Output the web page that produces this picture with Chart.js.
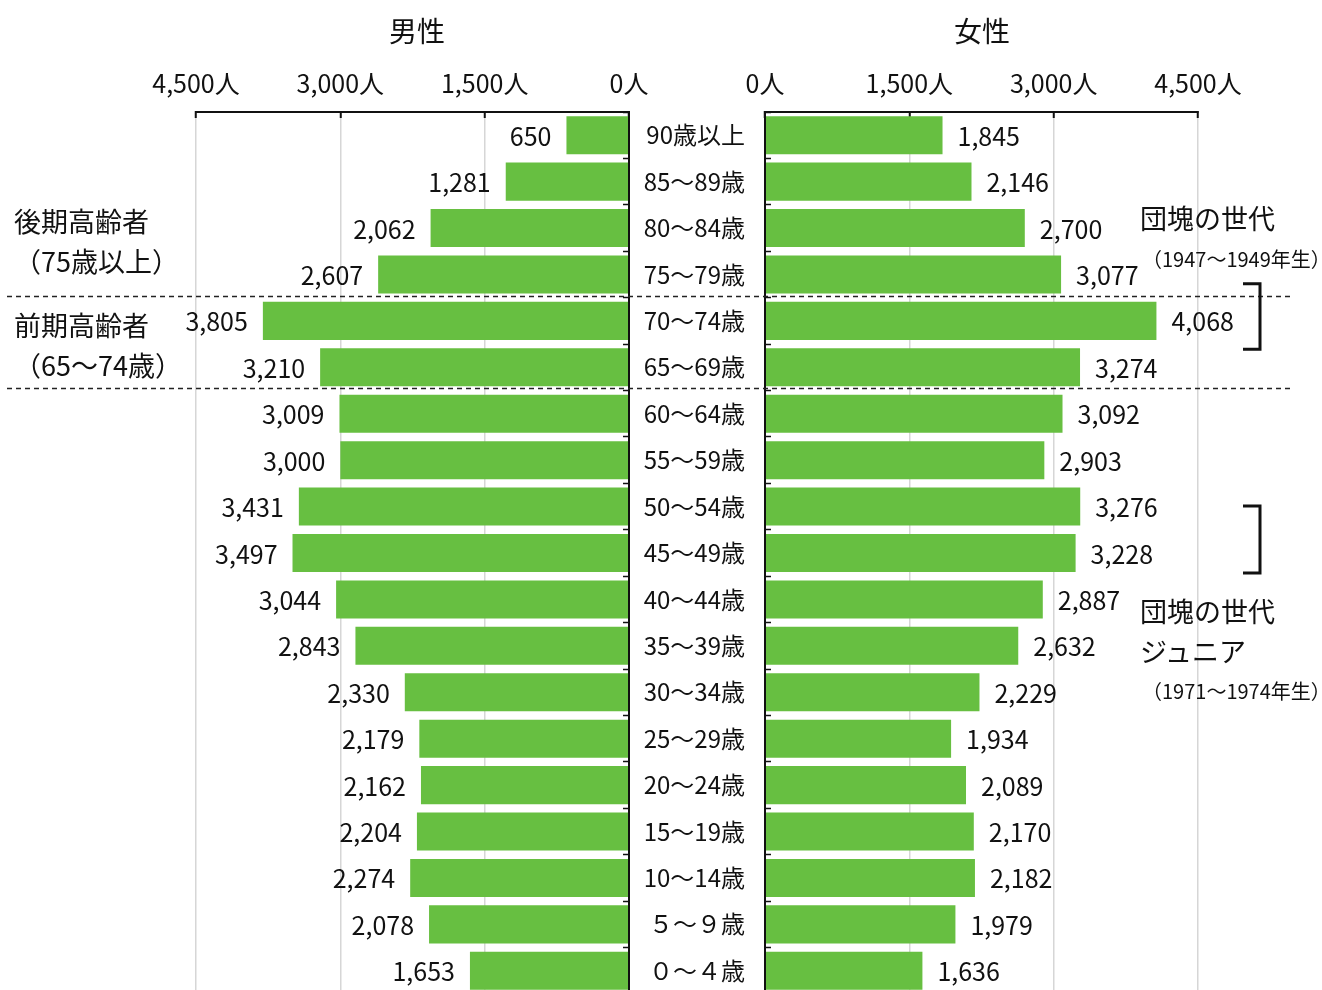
<!DOCTYPE html>
<html lang="ja">
<head>
<meta charset="utf-8">
<script src="https://cdn.jsdelivr.net/npm/chart.js@4.4.1/dist/chart.umd.min.js"></script>
<style>
  html, body { margin:0; padding:0; background:#fff; overflow:hidden; }
  #wrap { position:relative; width:1322px; height:990px; overflow:hidden;
          font-family:"Liberation Sans Narrow","Noto Sans CJK JP",sans-serif; color:#111; }
  canvas { position:absolute; top:0; }
  #male { left:0; }
  #female { left:640px; }
  .t { position:absolute; white-space:nowrap; line-height:1; transform:translateY(-50%); }
  .big { font-size:27px; }
  .small { font-size:20px; }
  .title { font-size:28px; transform:translate(-50%,-50%); }
</style>
</head>
<body>
<div id="wrap">
  <canvas id="male" width="660" height="1000"></canvas>
  <canvas id="female" width="682" height="1000"></canvas>

  <div class="t title" style="left:417px;top:30px">男性</div>
  <div class="t title" style="left:982px;top:30px">女性</div>

  <div class="t big" style="left:14px;top:220px">後期高齢者</div>
  <div class="t big" style="left:14px;top:260px">（75歳以上）</div>
  <div class="t big" style="left:14px;top:324px">前期高齢者</div>
  <div class="t big" style="left:14px;top:364px">（65～74歳）</div>

  <div class="t big" style="left:1140px;top:217px">団塊の世代</div>
  <div class="t small" style="left:1142px;top:259px">（1947～1949年生）</div>
  <div class="t big" style="left:1140px;top:610px">団塊の世代</div>
  <div class="t big" style="left:1140px;top:650px">ジュニア</div>
  <div class="t small" style="left:1142px;top:691px">（1971～1974年生）</div>
</div>
<script>
const ages = ['90歳以上','85～89歳','80～84歳','75～79歳','70～74歳','65～69歳','60～64歳',
  '55～59歳','50～54歳','45～49歳','40～44歳','35～39歳','30～34歳','25～29歳','20～24歳',
  '15～19歳','10～14歳','５～９歳','０～４歳'];
const male = [650,1281,2062,2607,3805,3210,3009,3000,3431,3497,3044,2843,2330,2179,2162,2204,2274,2078,1653];
const female = [1845,2146,2700,3077,4068,3274,3092,2903,3276,3228,2887,2632,2229,1934,2089,2170,2182,1979,1636];
const axisTicks = [0,1500,3000,4500];

const family = '"Liberation Sans Narrow", "Noto Sans CJK JP", sans-serif';
const green = '#67bf41';
const ink = '#111';

// value labels next to bar ends
function valueLabels(side){
  return {
    id:'valueLabels',
    afterDatasetsDraw(chart){
      const ctx = chart.ctx;
      const meta = chart.getDatasetMeta(0);
      const vals = chart.data.datasets[0].data;
      ctx.save();
      ctx.font = '25px ' + family;
      ctx.fillStyle = ink;
      ctx.textBaseline = 'middle';
      ctx.textAlign = side == 'left' ? 'right' : 'left';
      meta.data.forEach((bar, i) => {
        let x = side == 'left' ? bar.x - 15 : bar.x + 15;
        ctx.fillText(vals[i].toLocaleString('en-US'), x, bar.y + 1);
      });
      ctx.restore();
    }
  };
}

// dashed separators between age groups (elderly bands)
function dashLines(x0, x1, phase){
  return {
    id:'dashLines',
    afterDraw(chart){
      const ctx = chart.ctx, y = chart.scales.y;
      ctx.save();
      ctx.strokeStyle = '#222';
      ctx.lineWidth = 1.3;
      ctx.setLineDash([5,4]);
      ctx.lineDashOffset = phase;
      [3.47, 5.45].forEach(v => {
        const py = Math.round(y.getPixelForValue(v)) + 0.5;
        ctx.beginPath(); ctx.moveTo(x0, py); ctx.lineTo(x1, py); ctx.stroke();
      });
      ctx.restore();
    }
  };
}

const brackets = {
  id:'brackets',
  afterDraw(chart){
    const ctx = chart.ctx, y = chart.scales.y;
    ctx.save();
    ctx.strokeStyle = ink;
    ctx.lineWidth = 3;
    [[3.2,4.61],[7.99,9.43]].forEach(([a,b]) => {
      const ya = y.getPixelForValue(a), yb = y.getPixelForValue(b);
      ctx.beginPath();
      ctx.moveTo(603, ya); ctx.lineTo(620, ya); ctx.lineTo(620, yb); ctx.lineTo(603, yb);
      ctx.stroke();
    });
    ctx.restore();
  }
};

function xScale(reverse){
  return {
    position:'top', reverse:reverse, min:0, max:4500,
    afterBuildTicks: s => { s.ticks = axisTicks.map(v => ({value:v})); },
    grid:{ color:'#d6d6d6', lineWidth:1.5, tickColor:ink, tickLength:-6, tickWidth:2 },
    border:{ color:ink, width:2, z:1 },
    ticks:{ font:{family:family, size:25}, color:ink, padding:20, maxRotation:0,
            callback: v => v.toLocaleString('en-US') + '人' },
    afterFit: s => { s.height = 112; }
  };
}

new Chart(document.getElementById('male'), {
  type:'bar',
  data:{ labels:ages, datasets:[{ data:male, backgroundColor:green, barPercentage:0.82, categoryPercentage:1 }] },
  options:{
    indexAxis:'y', responsive:false, animation:false,
    layout:{ padding:{ left:196, right:31, top:0, bottom:6 } },
    plugins:{ legend:{display:false}, tooltip:{enabled:false} },
    scales:{
      x: xScale(true),
      y:{ position:'right',
          grid:{ drawOnChartArea:false, tickLength:-6, tickColor:ink, tickWidth:1.5 },
          border:{ color:ink, width:2, z:1 },
          ticks:{ display:false },
          afterFit: s => { s.width = 0; s.paddingTop = 0; s.paddingBottom = 0; } }
    }
  },
  plugins:[valueLabels('left'), dashLines(7, 650, 0)]
});

new Chart(document.getElementById('female'), {
  type:'bar',
  data:{ labels:ages, datasets:[{ data:female, backgroundColor:green, barPercentage:0.82, categoryPercentage:1 }] },
  options:{
    indexAxis:'y', responsive:false, animation:false,
    layout:{ padding:{ left:0, right:124, top:0, bottom:6 } },
    plugins:{ legend:{display:false}, tooltip:{enabled:false} },
    scales:{
      x: xScale(false),
      y:{ position:'left',
          grid:{ drawOnChartArea:false, tickLength:-6, tickColor:ink, tickWidth:1.5 },
          border:{ color:ink, width:2, z:1 },
          ticks:{ font:{family:family, size:24}, color:ink, padding:26, crossAlign:'near' },
          afterFit: s => { s.width = 125; s.paddingTop = 0; s.paddingBottom = 0; } }
    }
  },
  plugins:[valueLabels('right'), dashLines(10, 653, 643), brackets]
});
</script>
</body>
</html>
